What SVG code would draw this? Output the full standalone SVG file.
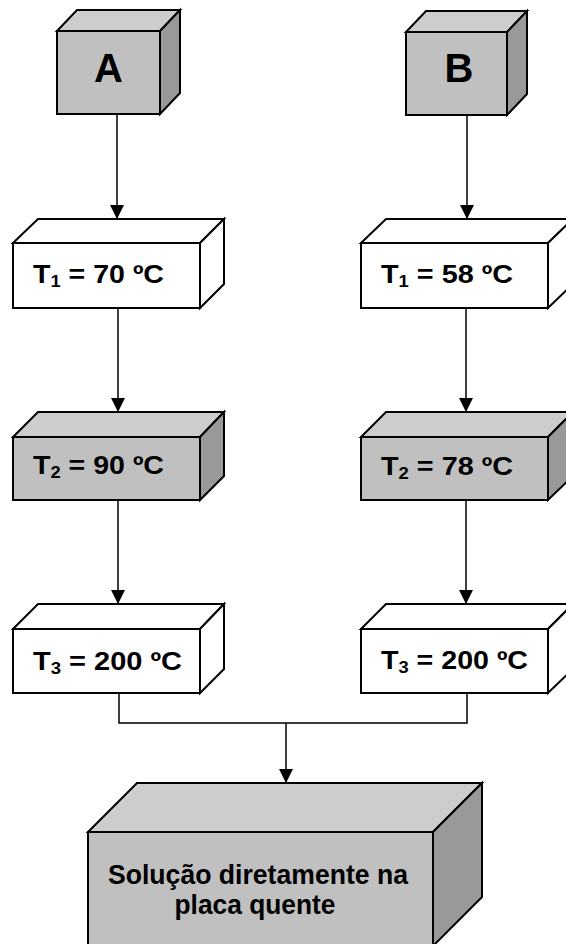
<svg xmlns="http://www.w3.org/2000/svg" width="566" height="944" viewBox="0 0 566 944">
<style>
.e{stroke:#000;stroke-width:2;stroke-linejoin:miter}
.gf{fill:#c0c0c0}.gt{fill:#cdcdcd}.gs{fill:#999999}
.w{fill:#ffffff}
.t{font-family:"Liberation Sans",Arial,sans-serif;font-weight:bold;fill:#000}
.c{fill:none;stroke:#000;stroke-width:1.5}
</style>
<defs>
<marker id="ah" markerUnits="userSpaceOnUse" markerWidth="14" markerHeight="14" refX="14" refY="7" orient="auto">
<path d="M0,0 L14,7 L0,14 z" fill="#000"/>
</marker>
</defs>
<g id="connectors">
<path class="c" d="M117,113 V219" marker-end="url(#ah)"/>
<path class="c" d="M467,115 V219" marker-end="url(#ah)"/>
<path class="c" d="M118,308 V412" marker-end="url(#ah)"/>
<path class="c" d="M466,308 V412" marker-end="url(#ah)"/>
<path class="c" d="M118,500 V604" marker-end="url(#ah)"/>
<path class="c" d="M466,500 V604" marker-end="url(#ah)"/>
<path class="c" d="M119,693 V723 H467 V693"/>
<path class="c" d="M286,723 V783" marker-end="url(#ah)"/>
</g>
<g id="nodeA">
<path class="e gt" d="M57,31 L77,10 H180 L160,31 Z"/>
<path class="e gs" d="M160,31 L180,10 V93 L160,114 Z"/>
<rect class="e gf" x="57" y="31" width="103" height="83"/>
<text class="t" x="108.5" y="82" font-size="40" text-anchor="middle">A</text>
</g>
<g id="nodeB">
<path class="e gt" d="M406,32 L426,11 H527 L507,32 Z"/>
<path class="e gs" d="M507,32 L527,11 V94 L507,115 Z"/>
<rect class="e gf" x="406" y="32" width="101" height="83"/>
<text class="t" x="459" y="82" font-size="40" text-anchor="middle">B</text>
</g>
<g id="nodeA1">
<path class="e w" d="M13,243 L38,219 H224 L200,243 Z"/>
<path class="e w" d="M200,243 L224,219 V284 L200,308 Z"/>
<rect class="e w" x="13" y="243" width="187" height="65"/>
<text class="t" x="33" y="283" font-size="25" textLength="131" lengthAdjust="spacingAndGlyphs">T<tspan font-size="16" dy="4">1</tspan><tspan dy="-4"> = 70 ºC</tspan></text>
</g>
<g id="nodeB1">
<path class="e w" d="M361,243 L386,219 H573 L548,243 Z"/>
<path class="e w" d="M548,243 L573,219 V284 L548,308 Z"/>
<rect class="e w" x="361" y="243" width="187" height="65"/>
<text class="t" x="381" y="283" font-size="25" textLength="132" lengthAdjust="spacingAndGlyphs">T<tspan font-size="16" dy="4">1</tspan><tspan dy="-4"> = 58 ºC</tspan></text>
</g>
<g id="nodeA2">
<path class="e gt" d="M13,437 L38,412 H224 L200,437 Z"/>
<path class="e gs" d="M200,437 L224,412 V476 L200,500 Z"/>
<rect class="e gf" x="13" y="437" width="187" height="63"/>
<text class="t" x="33" y="474" font-size="25" textLength="131" lengthAdjust="spacingAndGlyphs">T<tspan font-size="16" dy="4">2</tspan><tspan dy="-4"> = 90 ºC</tspan></text>
</g>
<g id="nodeB2">
<path class="e gt" d="M361,437 L386,412 H573 L548,437 Z"/>
<path class="e gs" d="M548,437 L573,412 V476 L548,500 Z"/>
<rect class="e gf" x="361" y="437" width="187" height="63"/>
<text class="t" x="381" y="475" font-size="25" textLength="132" lengthAdjust="spacingAndGlyphs">T<tspan font-size="16" dy="4">2</tspan><tspan dy="-4"> = 78 ºC</tspan></text>
</g>
<g id="nodeA3">
<path class="e w" d="M13,629 L38,604 H224 L200,629 Z"/>
<path class="e w" d="M200,629 L224,604 V669 L200,693 Z"/>
<rect class="e w" x="13" y="629" width="187" height="64"/>
<text class="t" x="33" y="670" font-size="25" textLength="149" lengthAdjust="spacingAndGlyphs">T<tspan font-size="16" dy="4">3</tspan><tspan dy="-4"> = 200 ºC</tspan></text>
</g>
<g id="nodeB3">
<path class="e w" d="M361,629 L386,604 H573 L548,629 Z"/>
<path class="e w" d="M548,629 L573,604 V669 L548,693 Z"/>
<rect class="e w" x="361" y="629" width="187" height="64"/>
<text class="t" x="381" y="669" font-size="25" textLength="147" lengthAdjust="spacingAndGlyphs">T<tspan font-size="16" dy="4">3</tspan><tspan dy="-4"> = 200 ºC</tspan></text>
</g>
<g id="nodeFinal">
<path class="e gt" d="M88,832 L137,783 H482 L433,832 Z"/>
<path class="e gs" d="M433,832 L482,783 V897 L433,946 Z"/>
<rect class="e gf" x="88" y="832" width="345" height="114"/>
<text class="t" x="258" y="884" font-size="28" text-anchor="middle" textLength="300" lengthAdjust="spacingAndGlyphs">Solução diretamente na</text>
<text class="t" x="255" y="914" font-size="28" text-anchor="middle" textLength="161" lengthAdjust="spacingAndGlyphs">placa quente</text>
</g>
</svg>
